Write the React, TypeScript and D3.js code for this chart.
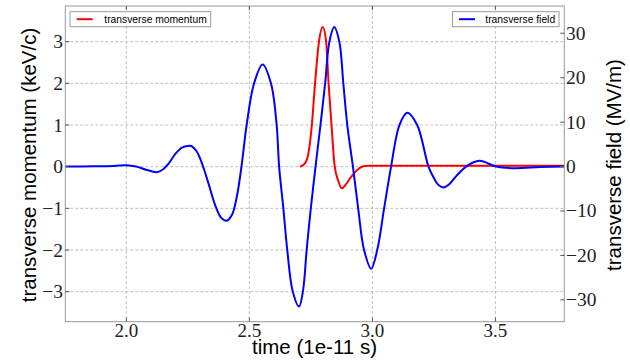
import React from "react";
import * as d3 from "d3";

// ---- data (time in units of 1e-11 s) ----
const momentumTime = [2.706, 2.726, 2.740, 2.754, 2.767, 2.783, 2.798, 2.812, 2.822, 2.834, 2.846, 2.860, 2.876, 2.893, 2.917, 2.942, 2.962, 2.983, 3.779];
const momentumValue = [0, 0.08, 0.32, 1.0, 2.0, 3.0, 3.35, 3.0, 2.0, 1.0, 0.05, -0.32, -0.52, -0.42, -0.22, -0.06, 0.01, 0.025, 0.025];

const fieldTime = [1.752, 1.866, 1.950, 2.000, 2.040, 2.080, 2.124, 2.150, 2.171, 2.200, 2.228, 2.263, 2.285, 2.300, 2.315, 2.335, 2.360, 2.385, 2.408, 2.430, 2.450, 2.468, 2.489, 2.519, 2.554, 2.588, 2.611, 2.621, 2.638, 2.654, 2.676, 2.702, 2.718, 2.733, 2.750, 2.769, 2.789, 2.808, 2.825, 2.845, 2.866, 2.882, 2.898, 2.921, 2.942, 2.966, 2.995, 3.020, 3.048, 3.076, 3.110, 3.142, 3.182, 3.228, 3.250, 3.270, 3.289, 3.310, 3.340, 3.381, 3.435, 3.503, 3.580, 3.682, 3.779];
const fieldValue = [0, 0.05, 0.15, 0.3, 0.0, -0.7, -1.26, -0.6, 0.6, 2.9, 4.3, 4.64, 3.5, 1.8, -0.5, -4.0, -8.5, -11.5, -12.2, -10.8, -6.5, 0, 9.35, 18.7, 23.0, 18.7, 9.35, 0, -9.3, -18.7, -28, -31.5, -28, -18.7, -9.3, 0, 9.35, 18.7, 28, 31.4, 28, 18.7, 9.35, 0, -9.3, -18.7, -23.0, -18.7, -9.3, 0, 9.35, 12.1, 9.35, 0, -2.6, -4.2, -4.7, -4.1, -2.2, 0, 1.28, 0, -0.36, -0.1, 0];

const xTicks = [2.0, 2.5, 3.0, 3.5];
const leftTicks = [-3, -2, -1, 0, 1, 2, 3];
const rightTicks = [-30, -20, -10, 0, 10, 20, 30];

const W = 630, H = 361;
const L = 65.3, R = 564.3, T = 6, B = 321.7;

const fmt = (v: number) => (v < 0 ? "\u2212" + Math.abs(v) : String(v));

export default function App() {
  const x = d3.scaleLinear().domain([1.752, 3.780]).range([L, R]);
  const yL = d3.scaleLinear().domain([-3.72, 3.856]).range([B, T]);
  const yR = d3.scaleLinear().domain([-34.92, 36.14]).range([B, T]);

  const momentum = momentumTime.map((t, i) => [t, momentumValue[i]] as [number, number]);
  const field = fieldTime.map((t, i) => [t, fieldValue[i]] as [number, number]);

  const lineL = d3.line<[number, number]>().x(d => x(d[0])).y(d => yL(d[1])).curve(d3.curveMonotoneX);
  const lineR = d3.line<[number, number]>().x(d => x(d[0])).y(d => yR(d[1])).curve(d3.curveCatmullRom.alpha(0.5));

  const serif = "'Liberation Serif', 'DejaVu Serif', serif";
  const sans = "'Liberation Sans', Arial, sans-serif";
  const gridStyle = { stroke: "#b0b0b0", strokeWidth: 0.8, strokeDasharray: "3,2" };
  const tickColor = "#555";

  return (
    <svg width={W} height={H} style={{ position: "absolute", left: 0, top: 0, background: "#fff" }}>
      <rect x={0} y={0} width={W} height={H} fill="#fff" />
      <defs>
        <clipPath id="plot">
          <rect x={L} y={T} width={R - L} height={B - T} />
        </clipPath>
      </defs>
      {/* grid */}
      {xTicks.map(t => (
        <line key={"gx" + t} x1={x(t)} x2={x(t)} y1={T} y2={B} {...gridStyle} />
      ))}
      {leftTicks.map(t => (
        <line key={"gy" + t} x1={L} x2={R} y1={yL(t)} y2={yL(t)} {...gridStyle} />
      ))}
      {/* lines */}
      <g clipPath="url(#plot)">
        <path d={lineL(momentum) || ""} fill="none" stroke="#ff0000" strokeWidth={2} />
        <path d={lineR(field) || ""} fill="none" stroke="#0000ff" strokeWidth={2} />
      </g>
      {/* frame */}
      <rect x={L} y={T} width={R - L} height={B - T} fill="none" stroke="#999" strokeWidth={1} />
      {/* ticks */}
      {xTicks.map(t => (
        <g key={"tx" + t}>
          <line x1={x(t)} x2={x(t)} y1={B} y2={B - 4} stroke={tickColor} />
          <line x1={x(t)} x2={x(t)} y1={T} y2={T + 4} stroke={tickColor} />
          <text x={x(t)} y={336.5} textAnchor="middle" fontFamily={serif} fontSize={19} fill="#222">
            {t.toFixed(1)}
          </text>
        </g>
      ))}
      {leftTicks.map(t => (
        <g key={"tl" + t}>
          <line x1={L} x2={L + 4} y1={yL(t)} y2={yL(t)} stroke={tickColor} />
          <text x={63} y={yL(t) + 6.5} textAnchor="end" fontFamily={serif} fontSize={19.5} fill="#222">
            {fmt(t)}
          </text>
        </g>
      ))}
      {rightTicks.map(t => (
        <g key={"tr" + t}>
          <line x1={R - 4} x2={R} y1={yR(t)} y2={yR(t)} stroke={tickColor} />
          <text x={566} y={yR(t) + 6.5} textAnchor="start" fontFamily={serif} fontSize={19.5} fill="#222">
            {fmt(t)}
          </text>
        </g>
      ))}
      {/* axis labels */}
      <text x={314.5} y={354} textAnchor="middle" fontFamily={sans} fontSize={20.5} fill="#000">
        time (1e-11 s)
      </text>
      <text transform="translate(36,165) rotate(-90)" textAnchor="middle" fontFamily={sans} fontSize={20.5} fill="#000">
        transverse momentum (keV/c)
      </text>
      <text transform="translate(621,165) rotate(-90)" textAnchor="middle" fontFamily={sans} fontSize={20.5} fill="#000">
        transverse field (MV/m)
      </text>
      {/* legends */}
      <g>
        <rect x={70} y={11.7} width={140.7} height={15} fill="#fff" stroke="#999" strokeWidth={1} />
        <line x1={76.7} x2={92.7} y1={19.2} y2={19.2} stroke="#ff0000" strokeWidth={2} />
        <text x={104.3} y={23} fontFamily={sans} fontSize={10.3} fill="#000">transverse momentum</text>
      </g>
      <g>
        <rect x={452.5} y={11.7} width={106.5} height={15} fill="#fff" stroke="#999" strokeWidth={1} />
        <line x1={459} x2={475} y1={19.2} y2={19.2} stroke="#0000ff" strokeWidth={2} />
        <text x={485.3} y={23} fontFamily={sans} fontSize={10.3} fill="#000">transverse field</text>
      </g>
    </svg>
  );
}
